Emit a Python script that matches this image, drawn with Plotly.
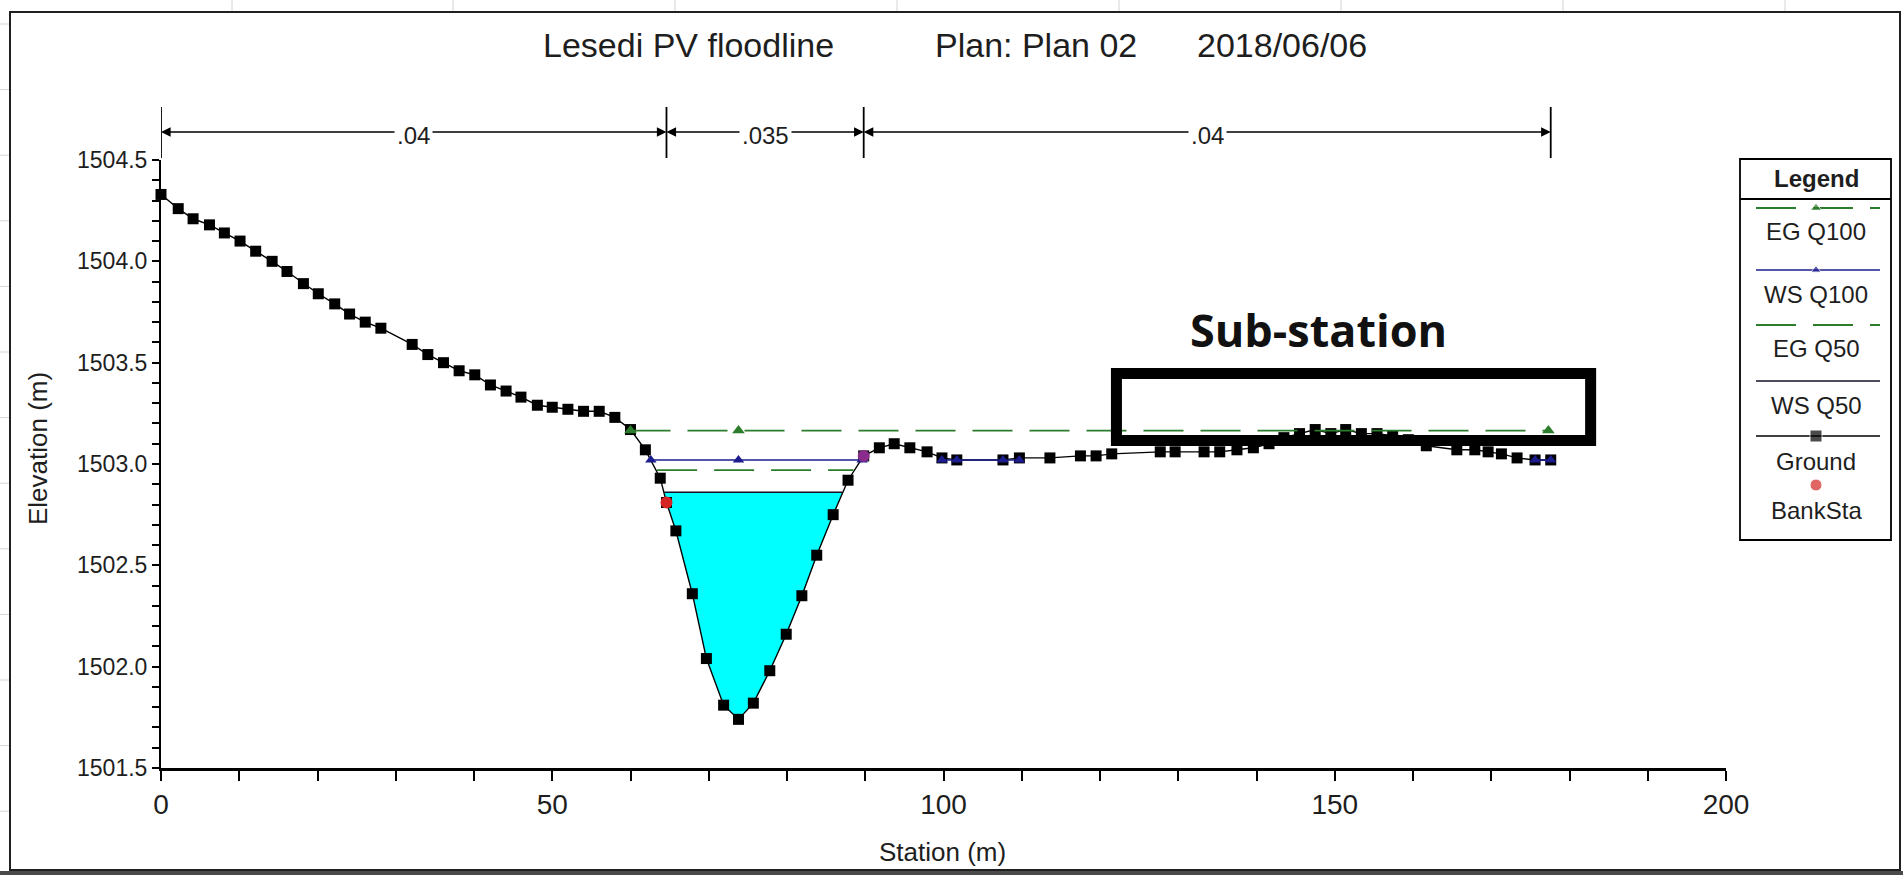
import plotly.graph_objects as go

# ---------------- data ----------------
ground_station = [0, 2.2, 4.1, 6.2, 8.1, 10.1, 12.1, 14.2, 16.1, 18.2, 20.1, 22.2, 24.1, 26.1, 28.1,
                  32.1, 34.1, 36.1, 38.1, 40.1, 42.1, 44.1, 46.0, 48.1, 50.0, 52.0, 54.0, 56.0, 58.0,
                  60.0, 61.9, 63.8, 64.6, 65.8, 67.9, 69.7, 71.9, 73.8, 75.7, 77.8, 79.9, 81.9, 83.8,
                  85.9, 87.8, 89.8, 91.8, 93.7, 95.7, 97.9, 99.8, 101.7, 107.6, 109.7, 113.6, 117.5,
                  119.5, 121.5, 127.7, 129.6, 133.3, 135.3, 137.5, 139.6, 141.6, 143.5, 145.5, 147.5,
                  149.5, 151.4, 153.4, 155.4, 157.4, 159.4, 161.7, 165.6, 167.9, 169.6, 171.3, 173.3,
                  175.6, 177.6]
ground_elev = [1504.33, 1504.26, 1504.21, 1504.18, 1504.14, 1504.10, 1504.05, 1504.00, 1503.95, 1503.89,
               1503.84, 1503.79, 1503.74, 1503.70, 1503.67, 1503.59, 1503.54, 1503.50, 1503.46, 1503.44,
               1503.39, 1503.36, 1503.33, 1503.29, 1503.28, 1503.27, 1503.26, 1503.26, 1503.23, 1503.17,
               1503.07, 1502.93, 1502.81, 1502.67, 1502.36, 1502.04, 1501.81, 1501.74, 1501.82, 1501.98,
               1502.16, 1502.35, 1502.55, 1502.75, 1502.92, 1503.04, 1503.08, 1503.10, 1503.08, 1503.06,
               1503.03, 1503.02, 1503.02, 1503.03, 1503.03, 1503.04, 1503.04, 1503.05, 1503.06, 1503.06,
               1503.06, 1503.06, 1503.07, 1503.08, 1503.10, 1503.13, 1503.15, 1503.17, 1503.15, 1503.17,
               1503.15, 1503.15, 1503.14, 1503.12, 1503.09, 1503.07, 1503.07, 1503.06, 1503.05, 1503.03,
               1503.02, 1503.02]

bank_station = [64.6, 89.8]
bank_elev = [1502.81, 1503.04]

eg_q100_station = [60.0, 73.8, 177.3]
eg_q100_elev = [1503.165, 1503.165, 1503.165]

ws_q100_station = [62.6, 73.8, 89.6, None, 99.8, 101.7, 107.6, 109.7, None, 175.6, 177.6]
ws_q100_elev = [1503.02, 1503.02, 1503.02, None, 1503.02, 1503.02, 1503.02, 1503.02, None, 1503.02, 1503.02]

eg_q50_station = [63.4, 88.5]
eg_q50_elev = [1502.97, 1502.97]

ws_q50_station = [64.3, 87.1]
ws_q50_elev = [1502.86, 1502.86]

n_bounds = [0, 64.6, 89.8, 177.6]
n_values = [".04", ".035", ".04"]

legend_names = ["EG Q100", "WS Q100", "EG Q50", "WS Q50", "Ground", "BankSta"]
x_tick_vals = [0, 50, 100, 150, 200]
y_tick_vals = [1501.5, 1502.0, 1502.5, 1503.0, 1503.5, 1504.0, 1504.5]
title_parts = ["Lesedi PV floodline", "Plan: Plan 02", "2018/06/06"]
substation_label = "Sub-station"

# ---------------- styles ----------------
GREEN = "#2b7d2b"
NAVY = "#1c1c8e"
RED = "#d42424"
CYAN = "#00ffff"
TXT = "#1e1e1e"
FONT = "Arial, Liberation Sans, sans-serif"

W, H = 1903, 875
ML, MR, MT, MB = 161, 5, 100, 107
PW, PH = W - ML - MR, H - MT - MB


def px(x):
    return (x - ML) / PW


def py(y):
    return 1 - (y - MT) / PH


fig = go.Figure()

# water fill below WS Q50
inside = [(s, e) for s, e in zip(ground_station, ground_elev) if ws_q50_station[0] < s < ws_q50_station[1]]
fill_x = [ws_q50_station[0]] + [s for s, _ in inside] + [ws_q50_station[1]]
fill_y = [ws_q50_elev[0]] + [e for _, e in inside] + [ws_q50_elev[1]]
fig.add_trace(go.Scatter(x=fill_x, y=fill_y, fill="toself", fillcolor=CYAN, mode="lines",
                         line=dict(width=0), hoverinfo="skip", showlegend=False))

fig.add_trace(go.Scatter(x=ground_station, y=ground_elev, mode="lines+markers", name="Ground",
                         line=dict(color="black", width=1.4),
                         marker=dict(symbol="square", size=11, color="black"),
                         cliponaxis=False, showlegend=False))

fig.add_trace(go.Scatter(x=ws_q50_station, y=ws_q50_elev, mode="lines", name="WS Q50",
                         line=dict(color="#101028", width=1.5), showlegend=False))

fig.add_trace(go.Scatter(x=eg_q50_station, y=eg_q50_elev, mode="lines", name="EG Q50",
                         line=dict(color=GREEN, width=1.8, dash="40px,17px"), showlegend=False))

fig.add_trace(go.Scatter(x=ws_q100_station, y=ws_q100_elev, mode="lines+markers", name="WS Q100",
                         line=dict(color=NAVY, width=1.6),
                         marker=dict(symbol="triangle-up", size=10, color=NAVY), showlegend=False))

fig.add_trace(go.Scatter(x=eg_q100_station, y=eg_q100_elev, mode="lines+markers", name="EG Q100",
                         line=dict(color=GREEN, width=1.8, dash="40px,17px"),
                         marker=dict(symbol="triangle-up", size=11, color=GREEN), showlegend=False))

fig.add_trace(go.Scatter(x=bank_station, y=bank_elev, mode="markers", name="BankSta",
                         marker=dict(symbol="circle", size=12, color=[RED, "#8a2c8c"]), showlegend=False))

# ---------------- custom legend (drawn in its own pixel-unit axes) ----------------
leg_x0, leg_x1, leg_top, leg_bot = 1740, 1891, 159, 540
leg_line_y = [208, 270, 325, 381, 436, 485]
leg_text_y = [231, 294, 348, 405, 461, 510]
leg_cx = 1816
leg_styles = [
    dict(line=dict(color=GREEN, width=1.8, dash="40px,17px"), marker=dict(symbol="triangle-up", size=[0, 10, 0], color=GREEN), mode="lines+markers"),
    dict(line=dict(color=NAVY, width=1.6), marker=dict(symbol="triangle-up", size=[0, 9, 0], color=NAVY), mode="lines+markers"),
    dict(line=dict(color=GREEN, width=1.8, dash="40px,17px"), mode="lines"),
    dict(line=dict(color="#101028", width=1.6), mode="lines"),
    dict(line=dict(color="black", width=1.6), marker=dict(symbol="square", size=[0, 12, 0], color="black"), mode="lines+markers"),
    dict(marker=dict(symbol="circle", size=[0, 12, 0], color=RED), mode="markers"),
]
for yy, st in zip(leg_line_y, leg_styles):
    fig.add_trace(go.Scatter(x=[1756, leg_cx, 1880], y=[yy, yy, yy], xaxis="x2", yaxis="y2",
                             showlegend=False, hoverinfo="skip", cliponaxis=False, **st))

annotations = []
shapes = []

for name, yy in zip(legend_names, leg_text_y):
    annotations.append(dict(xref="paper", yref="paper", x=px(leg_cx), y=py(yy), text=name,
                            showarrow=False, xanchor="center", yanchor="middle",
                            font=dict(family=FONT, size=24, color=TXT)))
annotations.append(dict(xref="paper", yref="paper", x=px(leg_cx), y=py(179), text="<b>Legend</b>",
                        showarrow=False, xanchor="center", yanchor="middle",
                        font=dict(family=FONT, size=24, color=TXT)))
shapes.append(dict(type="rect", xref="paper", yref="paper", x0=px(leg_x0), x1=px(leg_x1),
                   y0=py(leg_bot), y1=py(leg_top), line=dict(color="black", width=1.8)))
shapes.append(dict(type="line", xref="paper", yref="paper", x0=px(leg_x0), x1=px(leg_x1),
                   y0=py(199), y1=py(199), line=dict(color="black", width=1.8)))

# ---------------- Manning's n bar ----------------
for b in n_bounds:
    shapes.append(dict(type="line", xref="x", yref="paper", x0=b, x1=b, y0=py(158), y1=py(107),
                       line=dict(color="black", width=1.8)))
for (a, b), val in zip(zip(n_bounds[:-1], n_bounds[1:]), n_values):
    mid = (a + b) / 2
    for tip in (a, b):
        annotations.append(dict(xref="x", yref="paper", x=tip, y=py(132), ax=mid, ay=0,
                                axref="x", ayref="pixel", text="", showarrow=True,
                                arrowhead=2, arrowsize=1.2, arrowwidth=1.6, arrowcolor="black",
                                standoff=0, startstandoff=0))
for (a, b), val in zip(zip(n_bounds[:-1], n_bounds[1:]), n_values):
    annotations.append(dict(xref="x", yref="paper", x=(a + b) / 2, y=py(135), text=val,
                            showarrow=False, xanchor="center", yanchor="middle",
                            bgcolor="white", borderpad=2,
                            font=dict(family=FONT, size=24, color=TXT)))

# ---------------- titles ----------------
for t, cx in zip(title_parts, [688, 1036, 1282]):
    annotations.append(dict(xref="paper", yref="paper", x=px(cx), y=py(45), text=t, showarrow=False,
                            xanchor="center", yanchor="middle",
                            font=dict(family=FONT, size=34, color=TXT)))
annotations.append(dict(xref="paper", yref="paper", x=px(942), y=py(852), text="Station (m)",
                        showarrow=False, xanchor="center", yanchor="middle",
                        font=dict(family=FONT, size=26, color=TXT)))
annotations.append(dict(xref="paper", yref="paper", x=px(38), y=py(449), text="Elevation (m)",
                        showarrow=False, xanchor="center", yanchor="middle", textangle=-90,
                        font=dict(family=FONT, size=26, color=TXT)))

# ---------------- Sub-station overlay ----------------
annotations.append(dict(xref="paper", yref="paper", x=px(1318), y=py(329), text="<b>" + substation_label + "</b>",
                        showarrow=False, xanchor="center", yanchor="middle",
                        font=dict(family="Open Sans", size=45, color="#111111")))
shapes.append(dict(type="rect", xref="x", yref="y", x0=122.1, x1=182.7, y0=1503.116, y1=1503.447,
                   line=dict(color="black", width=11), layer="above"))

# ---------------- outer frame & spreadsheet background ----------------
for gx in [232, 453, 675, 897, 1119, 1341, 1563, 1785]:
    shapes.append(dict(type="line", xref="paper", yref="paper", x0=px(gx), x1=px(gx), y0=py(0), y1=py(11),
                       line=dict(color="#d4d4d4", width=1)))
for k in range(13):
    gy = 24 + k * 65.6
    shapes.append(dict(type="line", xref="paper", yref="paper", x0=px(0), x1=px(9), y0=py(gy), y1=py(gy),
                       line=dict(color="#d4d4d4", width=1)))
shapes.append(dict(type="rect", xref="paper", yref="paper", x0=px(10), x1=px(1900), y0=py(870), y1=py(12),
                   line=dict(color="#202020", width=2)))
shapes.append(dict(type="rect", xref="paper", yref="paper", x0=px(0), x1=px(1903), y0=py(875), y1=py(871),
                   fillcolor="#4a4a4a", line=dict(width=0)))

hidden_axis = dict(showline=False, showticklabels=False, showgrid=False, zeroline=False, ticks="",
                   automargin=False, autorange=False, fixedrange=True)

fig.update_layout(
    template="none",
    autosize=False,
    width=W, height=H,
    margin=dict(l=ML, r=MR, t=MT, b=MB, pad=0, autoexpand=False),
    paper_bgcolor="white", plot_bgcolor="white",
    showlegend=False,
    xaxis=dict(domain=[0, px(1726)], range=[0, 200], tickvals=x_tick_vals,
               ticktext=[str(v) for v in x_tick_vals], automargin=False,
               ticks="outside", ticklen=10, tickwidth=1.5, tickcolor="black",
               minor=dict(tick0=0, dtick=10, ticks="outside", ticklen=10, tickwidth=1.5, tickcolor="black"),
               showline=True, linewidth=2.5, linecolor="black", showgrid=False, zeroline=False,
               tickfont=dict(family=FONT, size=28, color=TXT), anchor="y"),
    yaxis=dict(domain=[0, py(160)], range=[1501.5, 1504.5], tickvals=y_tick_vals,
               ticktext=["%.1f" % v for v in y_tick_vals], automargin=False,
               ticks="outside", ticklen=7, tickwidth=1.5, tickcolor="black",
               minor=dict(tick0=1501.5, dtick=0.1, ticks="outside", ticklen=7, tickwidth=1.5, tickcolor="black"),
               showline=True, linewidth=2, linecolor="black", showgrid=False, zeroline=False,
               tickfont=dict(family=FONT, size=23, color=TXT), anchor="x"),
    xaxis2=dict(domain=[px(leg_x0), px(leg_x1)], range=[leg_x0, leg_x1], anchor="y2", **hidden_axis),
    yaxis2=dict(domain=[py(leg_bot), py(leg_top)], range=[leg_bot, leg_top], anchor="x2", **hidden_axis),
    annotations=annotations,
    shapes=shapes,
)

fig.write_html("out.html")
